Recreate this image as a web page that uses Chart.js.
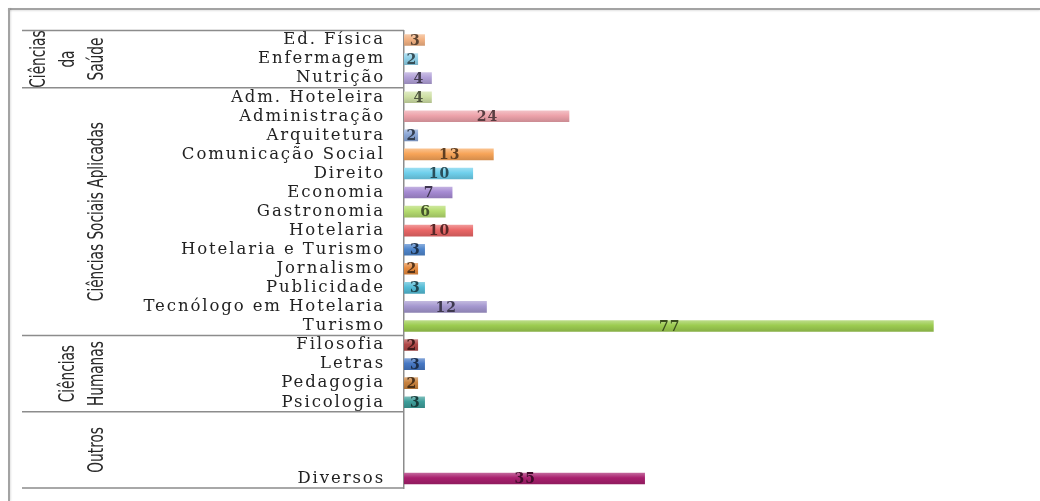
<!DOCTYPE html>
<html>
<head>
<meta charset="utf-8">
<script src="https://cdn.jsdelivr.net/npm/chart.js@4/dist/chart.umd.min.js"></script>
<style>
  body { margin: 0; background: #fff; overflow: hidden; }
  #wrap { position: relative; width: 1040px; height: 501px; overflow: hidden; }
  #wrap canvas { display: block; }
  .edge { position: absolute; background: #a3a3a3; pointer-events: none; }
  #edgeTop { left: 8px; top: 8px; width: 1032px; height: 2px; box-shadow: 0 1px 2px rgba(0, 0, 0, 0.12); }
  #edgeLeft { left: 8px; top: 8px; width: 2px; height: 493px; box-shadow: 1px 0 2px rgba(0, 0, 0, 0.12); }
</style>
</head>
<body>
<div id="wrap">
  <canvas id="cursosChart" width="1040" height="501"></canvas>
  <div class="edge" id="edgeTop"></div>
  <div class="edge" id="edgeLeft"></div>
</div>
<script>
// cursos (rows of the chart, top to bottom)
const cursos = [
    'Ed. Física', 'Enfermagem', 'Nutrição',
    'Adm. Hoteleira', 'Administração', 'Arquitetura', 'Comunicação Social', 'Direito',
    'Economia', 'Gastronomia', 'Hotelaria', 'Hotelaria e Turismo', 'Jornalismo',
    'Publicidade', 'Tecnólogo em Hotelaria', 'Turismo',
    'Filosofia', 'Letras', 'Pedagogia', 'Psicologia',
    '', '', '', 'Diversos'
];
const alunos = [3, 2, 4, 4, 24, 2, 13, 10, 7, 6, 10, 3, 2, 3, 12, 77, 2, 3, 2, 3, null, null, null, 35];

const barColors = [
    '#f2b283', '#8fd0e8', '#b2a1d8',
    '#cfe0a6', '#eda2aa', '#8aa6d6', '#f7a458', '#6fd0ec',
    '#a68bd3', '#b5dc6f', '#ea6666', '#4f86cc', '#e58a3e',
    '#54bcd6', '#a497cf', '#9ccc50',
    '#b04848', '#4778c4', '#c8823e', '#3e9e9a',
    '#999999', '#999999', '#999999', '#a8206e'
];

// áreas (group labels on the left and the rows they cover)
const areaLines = [['Ciências', 'da', 'Saúde'], ['Ciências Sociais Aplicadas'], ['Ciências', 'Humanas'], ['Outros']];
const areaFirst = [0, 3, 16, 20];
const areaLast = [2, 15, 19, 23];

function shade(hex, f) {
    const n = parseInt(hex.slice(1), 16);
    const c = [(n >> 16) & 255, (n >> 8) & 255, n & 255].map(function(v) {
        return f < 1 ? Math.round(v * f) : Math.round(v + (255 - v) * (f - 1));
    });
    return 'rgb(' + c.join(',') + ')';
}

const spacingPlugin = {
    id: 'spacing',
    beforeUpdate(chart) { chart.ctx.letterSpacing = '1.9px'; },
    beforeDraw(chart) { chart.ctx.letterSpacing = '1.9px'; }
};

const valueLabels = {
    id: 'valueLabels',
    afterDatasetsDraw(chart) {
        const ctx = chart.ctx;
        const meta = chart.getDatasetMeta(0);
        ctx.save();
        ctx.letterSpacing = '1px';
        ctx.font = 'bold 14px "DejaVu Serif", serif';
        ctx.textAlign = 'center';
        ctx.textBaseline = 'middle';
        meta.data.forEach(function(bar, i) {
            if (alunos[i] === null) return;
            ctx.fillStyle = shade(barColors[i], 0.38);
            ctx.fillText(String(alunos[i]), (bar.x + bar.base) / 2 + 1, bar.y + 1);
        });
        ctx.restore();
    }
};

const areaPlugin = {
    id: 'areas',
    afterDraw(chart) {
        const ctx = chart.ctx;
        const y = chart.scales.y;
        const left = 22, right = chart.chartArea.left;
        const half = (y.getPixelForValue(1) - y.getPixelForValue(0)) / 2;
        ctx.save();
        ctx.letterSpacing = '0px';
        ctx.strokeStyle = '#8c8c8c';
        ctx.lineWidth = 1.5;
        areaFirst.forEach(function(first, g) {
            const top = y.getPixelForValue(first) - half;
            const bottom = y.getPixelForValue(areaLast[g]) + half;
            ctx.beginPath();
            ctx.moveTo(left, top);
            ctx.lineTo(right, top);
            if (g === areaFirst.length - 1) {
                ctx.moveTo(left, bottom);
                ctx.lineTo(right, bottom);
            }
            ctx.stroke();

            const lines = areaLines[g];
            const mid = (top + bottom) / 2;
            ctx.fillStyle = '#2a2a2a';
            ctx.font = '22px "Liberation Sans Narrow", "DejaVu Sans Condensed", "Roboto Condensed", sans-serif';
            ctx.textAlign = 'center';
            ctx.textBaseline = 'middle';
            lines.forEach(function(txt, k) {
                const x = 97 - (lines.length - 1 - k) * 29;
                ctx.save();
                ctx.translate(x, mid);
                ctx.rotate(-Math.PI / 2);
                ctx.scale(0.69, 1);
                ctx.fillText(txt, 0, 0);
                ctx.restore();
            });
        });
        ctx.restore();
    }
};

const ctx = document.getElementById('cursosChart').getContext('2d');
const cursosChart = new Chart(ctx, {
    type: 'bar',
    data: {
        labels: cursos,
        datasets: [{
            data: alunos,
            backgroundColor: function(c) {
                const base = barColors[c.dataIndex];
                const ys = c.chart.scales.y;
                if (!ys || ys.top === undefined) return base;
                const yc = ys.getPixelForValue(c.dataIndex);
                const g = c.chart.ctx.createLinearGradient(0, yc - 6, 0, yc + 6);
                g.addColorStop(0, shade(base, 1.35));
                g.addColorStop(0.45, base);
                g.addColorStop(1, shade(base, 0.85));
                return g;
            },
            borderWidth: 0,
            barThickness: 11
        }]
    },
    options: {
        indexAxis: 'y',
        responsive: false,
        devicePixelRatio: 1,
        animation: false,
        layout: { padding: { top: 30.5, bottom: 13, left: 0, right: 86 } },
        plugins: {
            legend: { display: false },
            tooltip: { enabled: false }
        },
        scales: {
            x: { display: false, min: 0, max: 80 },
            y: {
                grid: { display: false, drawTicks: true, tickLength: 19 },
                border: { display: true, color: '#8c8c8c', width: 1.5 },
                ticks: {
                    autoSkip: false,
                    padding: 0,
                    color: '#222',
                    font: { family: '"DejaVu Serif", serif', size: 16.5 }
                },
                afterFit: function(scale) { scale.width = 404; }
            }
        }
    },
    plugins: [spacingPlugin, valueLabels, areaPlugin]
});
</script>
</body>
</html>
